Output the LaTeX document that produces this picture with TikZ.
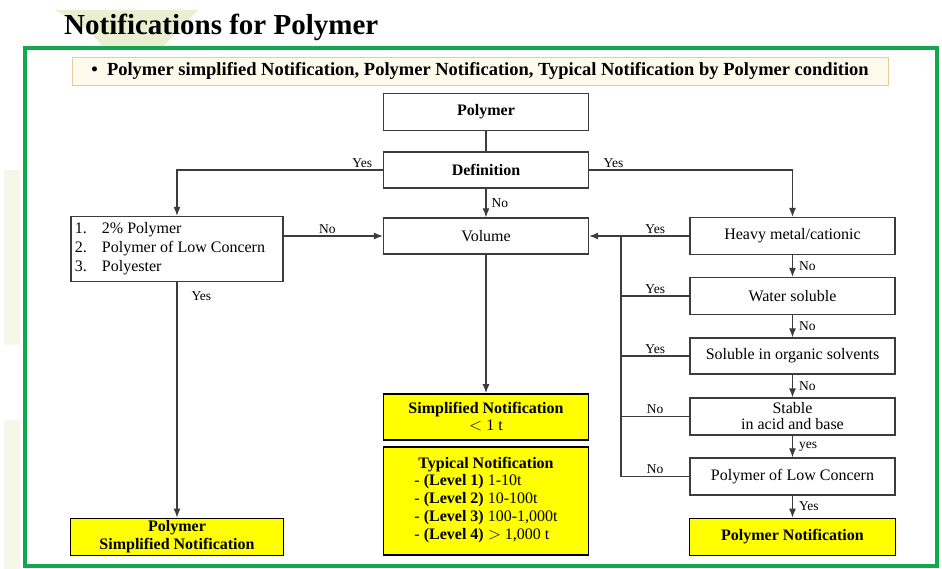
\documentclass[tikz,border=0pt]{standalone}
\usepackage{fontspec}
\setmainfont{Liberation Serif}
\usepackage{tikz}
\usetikzlibrary{calc,arrows,arrows.meta,positioning}
\definecolor{framegreen}{RGB}{18,168,78}
\definecolor{noteyellow}{RGB}{255,255,0}
\definecolor{bannerfill}{RGB}{255,251,236}
\definecolor{bannerline}{RGB}{228,205,150}
\definecolor{linegray}{RGB}{60,60,60}
\definecolor{leafgreen}{RGB}{205,215,140}
\tikzstyle{box}=[draw=linegray,line width=1.3pt,fill=white,minimum width=205pt,minimum height=37pt,inner sep=2pt,align=center,font=\fontsize{16}{19}\selectfont]
\tikzstyle{note}=[box,draw=black,line width=1.8pt,fill=noteyellow,font=\fontsize{16}{19}\selectfont\bfseries]
\tikzstyle{lbl}=[inner sep=2pt,font=\fontsize{13.5}{15}\selectfont]
\tikzstyle{link}=[draw=linegray,line width=1.1pt]
\tikzstyle{arr}=[link,-{Latex[length=9pt,width=7pt]}]

\begin{document}
\begin{tikzpicture}[x=1pt,y=-1pt]
\useasboundingbox (0,0) rectangle (942,569);
\fill[white] (0,0) rectangle (942,569);
% decoration
\fill[leafgreen,opacity=0.4] (55,10) .. controls (90,30) .. (105,50) -- (160,50) -- (198,10) -- cycle;
\fill[leafgreen,opacity=0.2] (4,170) rectangle (20,345);
\fill[leafgreen,opacity=0.2] (4,420) rectangle (20,569);
% title and frame
\node[anchor=west,inner sep=0pt,font=\fontsize{29}{31}\selectfont\bfseries] (title) at (64,27) {Notifications for Polymer};
\draw[framegreen,line width=3.5pt] (25,48) rectangle (937,566);
\node[draw=bannerline,fill=bannerfill,line width=0.8pt,minimum width=816pt,minimum height=28pt,inner sep=0pt,font=\fontsize{18.5}{20}\selectfont\bfseries] (banner) at (480,71)
    {\textbullet\ \ Polymer simplified Notification, Polymer Notification, Typical Notification by Polymer condition};

% middle column
\node[box,font=\fontsize{16}{19}\selectfont\bfseries] (polymer) at (486,112) {Polymer};
\node[box,font=\fontsize{16}{19}\selectfont\bfseries,minimum height=36pt] (defn) at (486,170) {Definition};
\node[box,minimum height=36pt] (volume) at (486,236) {Volume};
\node[note,minimum height=46pt] (simp) at (486,417) {Simplified Notification\\[-2pt]{\mdseries $<$ 1 t}};
\node[note,minimum height=108pt] (typical) at (486,501)
    {Typical Notification\\[-1pt]
     \mdseries\begin{tabular}{@{}l@{}}
     - \textbf{(Level 1)} 1-10t\\[-1pt]
     - \textbf{(Level 2)} 10-100t\\[-1pt]
     - \textbf{(Level 3)} 100-1,000t\\[-1pt]
     - \textbf{(Level 4)} $>$ 1,000 t
     \end{tabular}};

% left column
\node[box,minimum width=212pt,minimum height=65pt,align=left] (list) at (177,249)
    {\begin{tabular}{@{}l@{\hspace{15pt}}l@{}}
     1. & 2\% Polymer\\[0pt]
     2. & Polymer of Low Concern\\[0pt]
     3. & Polyester
     \end{tabular}\hspace{14pt}};
\node[note,minimum width=213pt] (psn) at (177,537) {Polymer\\[-1pt]Simplified Notification};

% right column
\node[box] (heavy) at (792.5,236) {Heavy metal/cationic};
\node[box] (water) at (792.5,296) {Water soluble};
\node[box,minimum height=36pt] (organic) at (792.5,356) {Soluble in organic solvents};
\node[box] (stable) at (792.5,416.5) {Stable\\[-3pt]in acid and base};
\node[box] (lowc) at (792.5,476.5) {Polymer of Low Concern};
\node[note,minimum width=206pt] (pn) at (792.5,537) {Polymer Notification};

\coordinate (bustop) at (621,236);
\coordinate (busbot) at (621,476.5);

% connectors
\draw[link] (polymer) -- (defn);
\draw[arr] (defn.west) -| node[lbl,pos=0.05,above] {Yes} (list.north);
\draw[arr] (defn.east) -| node[lbl,pos=0.06,above] {Yes} (heavy.north);
\draw[arr] (defn) -- node[lbl,right,xshift=3pt] {No} (volume);
\draw[arr] (volume.west -| list.east) -- node[lbl,above,xshift=-6pt] {No} (volume.west);
\draw[arr] (list.south) -- node[lbl,pos=0.06,right,xshift=12pt] {Yes} (psn.north);
\draw[arr] (volume) -- (simp);
\draw[arr] (heavy.west) -- node[lbl,pos=0.34,above] {Yes} (volume.east);
\draw[link] (bustop) -- (busbot);
\draw[link] (water.west) -- node[lbl,above] {Yes} (water.west -| bustop);
\draw[link] (organic.west) -- node[lbl,above] {Yes} (organic.west -| bustop);
\draw[link] (stable.west) -- node[lbl,above] {No} (stable.west -| bustop);
\draw[link] (lowc.west) -- node[lbl,above] {No} (lowc.west -| bustop);
\draw[arr] (heavy) -- node[lbl,right,xshift=4pt] {No} (water);
\draw[arr] (water) -- node[lbl,right,xshift=4pt] {No} (organic);
\draw[arr] (organic) -- node[lbl,right,xshift=4pt] {No} (stable);
\draw[arr] (stable) -- node[lbl,right,xshift=4pt] {yes} (lowc);
\draw[arr] (lowc) -- node[lbl,right,xshift=4pt] {Yes} (pn);
\end{tikzpicture}
\end{document}
